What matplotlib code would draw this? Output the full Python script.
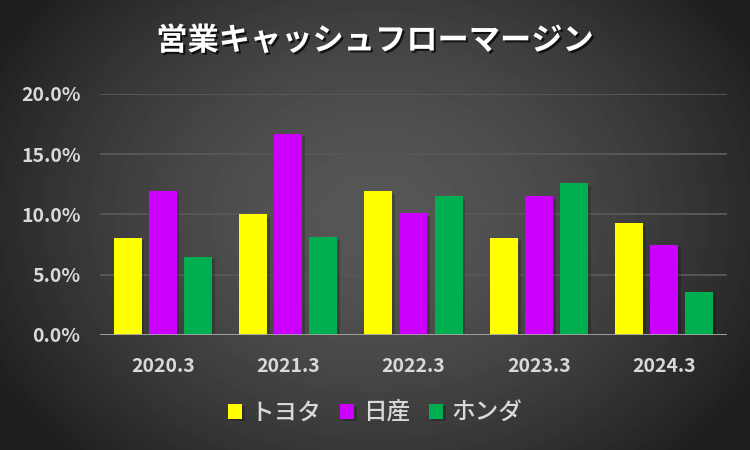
import matplotlib
matplotlib.use("Agg")
import matplotlib.pyplot as plt
import matplotlib.patheffects as pe
import numpy as np

plt.rcParams["font.family"] = ["Noto Sans CJK JP", "DejaVu Sans"]

# data (operating cash flow margin, %)
years = ["2020.3", "2021.3", "2022.3", "2023.3", "2024.3"]
toyota = [8.0, 10.0, 11.9, 8.0, 9.3]
nissan = [11.9, 16.7, 10.1, 11.5, 7.5]
honda = [6.5, 8.1, 11.5, 12.6, 3.6]
series_names = ["トヨタ", "日産", "ホンダ"]
colors = ["#FFFF00", "#CC00FF", "#00B050"]
yticks = [0, 5, 10, 15, 20]

TEXT = "#d9d9d9"

fig = plt.figure(figsize=(7.5, 4.5), dpi=100)

# radial gradient background
bg = fig.add_axes([0, 0, 1, 1], zorder=-10)
yy, xx = np.mgrid[0:450, 0:750]
r = np.sqrt(((xx - 375) / 420.0) ** 2 + ((yy - 215) / 330.0) ** 2)
shade = np.clip(0.34 - 0.21 * r ** 1.6, 0.12, 0.34)
bg.imshow(shade, cmap="gray", vmin=0, vmax=1, aspect="auto", interpolation="bilinear")
bg.axis("off")

ax = fig.add_axes([100 / 750, 1 - 335 / 450, 627 / 750, (335 - 93.7) / 450])
ax.patch.set_alpha(0)

x = np.arange(len(years))
step = 0.28
width = 0.223
shadow = [pe.SimplePatchShadow(offset=(2, -2), shadow_rgbFace="black", alpha=0.2), pe.Normal()]
handles = []
for i, (vals, name, c) in enumerate(zip([toyota, nissan, honda], series_names, colors)):
    bars = ax.bar(x + (i - 1) * step, vals, width, color=c, label=name, zorder=3)
    for b in bars:
        b.set_path_effects(shadow)
    handles.append(bars)

ax.set_xlim(-0.5, 4.5)
ax.set_ylim(0, 20)
ax.set_yticks(yticks)
ax.set_yticklabels([f"{v:.1f}%" for v in yticks])
ax.set_xticks(x)
ax.set_xticklabels(years)
ax.tick_params(length=0, colors=TEXT, labelsize=14)
ax.tick_params(axis="y", pad=14)
ax.tick_params(axis="x", pad=16)
for lab in ax.get_xticklabels() + ax.get_yticklabels():
    lab.set_fontweight("bold")

for s in ax.spines.values():
    s.set_visible(False)
ax.grid(axis="y", color="#575757", linewidth=1.4, zorder=0)
ax.axhline(0, color="#a6a6a6", linewidth=2, zorder=4)

title = fig.text(0.5, 1 - 41 / 450, "営業キャッシュフローマージン", ha="center", va="center",
                 color="white", fontsize=22.5, fontweight="bold")
title.set_path_effects([pe.withSimplePatchShadow(offset=(1.5, -1.5), shadow_rgbFace="black", alpha=0.7)])

leg = fig.legend(handles=handles, labels=series_names, loc="center", bbox_to_anchor=(0.5, 1 - 413 / 450),
                 ncol=3, frameon=False, fontsize=17, handlelength=0.6, handleheight=0.6,
                 handletextpad=0.35, columnspacing=0.8)
for t in leg.get_texts():
    t.set_color(TEXT)
    t.set_fontweight("medium")

fig.savefig("out.png", dpi=100)
